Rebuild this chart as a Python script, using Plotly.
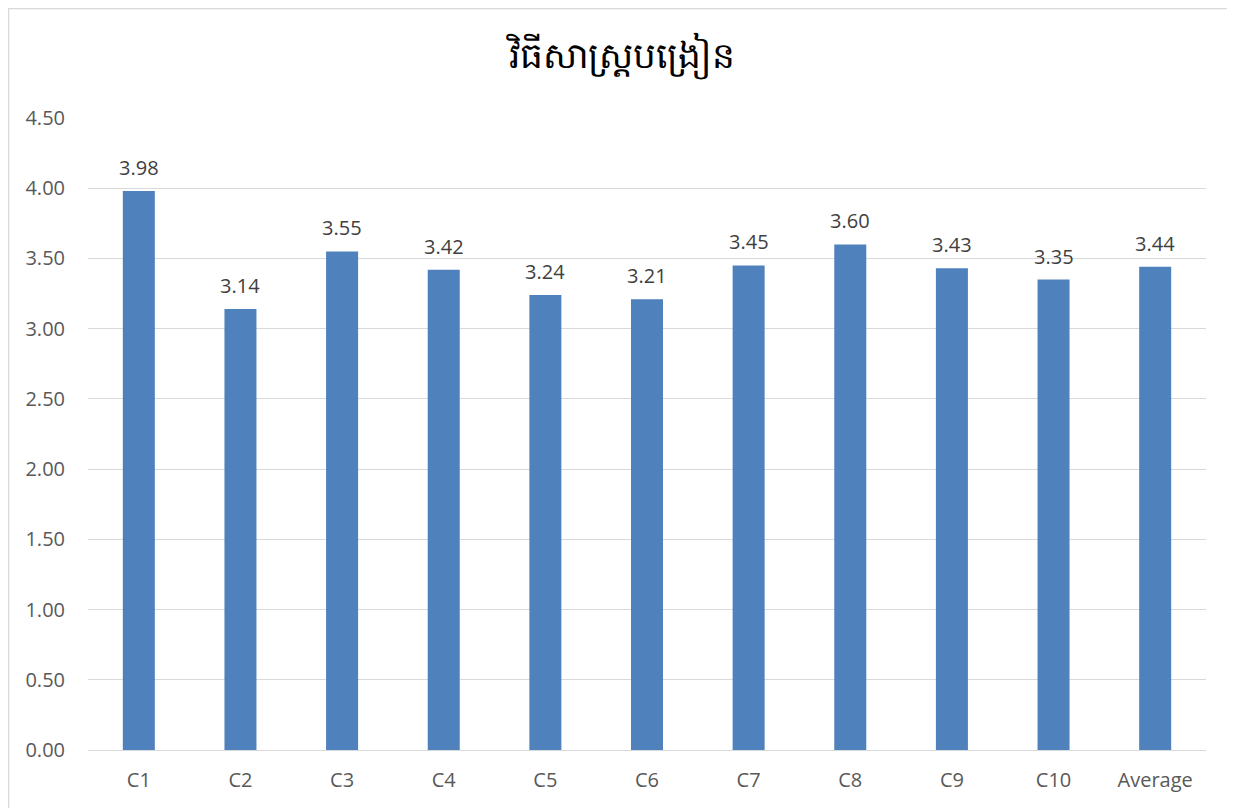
import plotly.graph_objects as go

categories = ["C1", "C2", "C3", "C4", "C5", "C6", "C7", "C8", "C9", "C10", "Average"]
scores = [3.98, 3.14, 3.55, 3.42, 3.24, 3.21, 3.45, 3.60, 3.43, 3.35, 3.44]
y_ticks = [0, 0.5, 1.0, 1.5, 2.0, 2.5, 3.0, 3.5, 4.0, 4.5]
title_text = "វិធីសាស្ត្របង្រៀន"

FONT = "Open Sans, Noto Sans, sans-serif"
TEXT = "#595959"

fig = go.Figure(
    go.Bar(
        x=categories,
        y=scores,
        marker=dict(color="#4f81bd", line_width=0),
        hovertemplate="%{x}<br><b>%{y:.2f}</b><extra></extra>",
    )
)

# value labels sit a little above each bar, like the Excel original
for cat, val in zip(categories, scores):
    fig.add_annotation(
        x=cat, y=val, text=f"{val:.2f}",
        showarrow=False, yanchor="bottom", yshift=8,
        font=dict(family=FONT, size=20, color="#404040"),
    )

fig.update_layout(
    width=1227,
    height=800,
    paper_bgcolor="white",
    plot_bgcolor="white",
    margin=dict(l=80, r=29, t=110, b=58),
    bargap=0.685,
    showlegend=False,
    font=dict(family=FONT, size=20, color=TEXT),
    title=dict(
        text=title_text,
        x=0.5, xanchor="center",
        y=0.941, yanchor="middle",
        font=dict(family=FONT, size=36, color="#000000"),
    ),
    xaxis=dict(
        showline=True, linecolor="#d9d9d9", linewidth=1,
        ticks="", ticklabelstandoff=12,
        tickfont=dict(size=20, color=TEXT),
    ),
    yaxis=dict(
        range=[0, 4.5],
        tickvals=y_ticks,
        tickformat=".2f",
        showgrid=True, gridcolor="#d9d9d9", gridwidth=1,
        zeroline=False, ticks="", ticklabelstandoff=22,
        tickfont=dict(size=20, color=TEXT),
    ),
    shapes=[
        dict(
            type="rect", xref="paper", yref="paper",
            x0=-0.0711, x1=1.0233, y0=-0.12, y1=1.1733,
            line=dict(color="#d9d9d9", width=1.5), layer="below",
        )
    ],
)

fig.write_html("out.html")
